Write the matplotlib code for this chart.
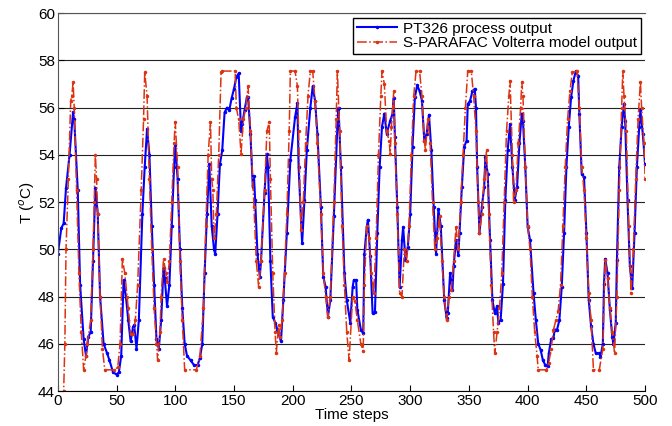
import matplotlib
matplotlib.use("Agg")
import matplotlib.pyplot as plt

plt.rcParams["font.family"] = ["Liberation Sans", "DejaVu Sans"]

# PT326 process output (time step, temperature)
t_proc = [0, 3, 5, 7, 10, 13, 14, 17, 19, 22, 24, 26, 28, 30, 32, 34, 36, 39, 42, 44,
          47, 50, 52, 54, 56, 58, 60, 62, 64, 65, 67, 69, 72, 74, 76, 78, 80, 82, 84, 86,
          88, 90, 91, 93, 95, 97, 99, 100, 102, 104, 106, 108, 110, 113, 116, 119, 121, 123, 125, 127,
          129, 131, 133, 134, 136, 138, 140, 142, 144, 146, 148, 150, 152, 154, 156, 157, 159, 161, 162, 164,
          166, 167, 168, 170, 172, 173, 176, 178, 179, 181, 183, 185, 187, 190, 192, 195, 198, 202, 204, 205,
          208, 210, 212, 215, 217, 219, 221, 224, 226, 228, 230, 232, 235, 238, 239, 241, 244, 246, 249, 251,
          252, 254, 255, 258, 260, 261, 263, 264, 266, 268, 270, 272, 274, 276, 278, 280, 283, 285, 286, 287,
          289, 291, 293, 294, 296, 298, 300, 302, 304, 306, 308, 310, 312, 314, 316, 318, 320, 322, 324, 326,
          329, 331, 332, 334, 336, 337, 339, 341, 342, 344, 346, 348, 349, 351, 353, 355, 356, 357, 359, 361,
          363, 364, 366, 368, 370, 372, 374, 375, 377, 379, 381, 383, 385, 387, 389, 391, 393, 395, 396, 398,
          400, 402, 405, 407, 409, 411, 413, 415, 417, 418, 420, 422, 423, 425, 427, 429, 431, 433, 435, 437,
          439, 441, 443, 444, 446, 448, 450, 452, 454, 456, 458, 461, 462, 464, 465, 466, 468, 470, 472, 473,
          475, 476, 478, 480, 482, 483, 485, 487, 489, 491, 493, 495, 496, 498, 500]
T_proc = [49.8, 50.9, 51.1, 52.6, 54.0, 55.8, 55.5, 52.5, 48.5, 46.2, 45.5, 46.3, 46.5, 49.5, 52.6, 51.5, 48.0, 46.0, 45.6, 45.3,
          44.8, 44.7, 44.8, 45.5, 48.7, 48.0, 47.0, 46.1, 46.7, 46.8, 45.8, 47.0, 51.5, 53.5, 55.1, 54.0, 51.0, 48.5, 46.2, 45.8,
          47.0, 49.2, 48.8, 47.6, 48.5, 51.0, 53.5, 54.4, 53.0, 50.0, 47.5, 46.0, 45.5, 45.3, 45.1, 45.1, 45.4, 46.0, 49.0, 51.5,
          53.6, 51.0, 50.0, 49.8, 51.5, 53.6, 54.2, 55.8, 56.0, 55.9, 56.4, 56.8, 57.3, 57.45, 55.0, 55.3, 55.9, 56.45, 56.45, 54.9,
          52.65, 53.1, 52.1, 49.8, 48.85, 49.5, 52.4, 54.05, 53.5, 49.5, 47.15, 46.9, 46.6, 46.1, 47.85, 50.7, 53.8, 55.6, 56.2, 53.5,
          50.25, 52.1, 54.2, 56.0, 56.9, 56.3, 54.9, 51.8, 48.85, 48.4, 47.15, 47.85, 51.4, 55.2, 56.0, 53.5, 49.0, 47.85, 46.9, 48.4,
          48.7, 48.7, 47.45, 46.6, 46.45, 49.8, 50.95, 51.25, 49.7, 47.3, 47.35, 50.7, 53.5, 55.2, 55.75, 54.9, 55.45, 55.75, 56.4, 54.75,
          51.8, 48.4, 50.4, 50.95, 49.55, 50.1, 51.5, 54.35, 56.45, 56.95, 56.7, 56.3, 54.6, 54.9, 55.7, 54.2, 51.8, 49.8, 51.7, 51.0,
          47.85, 47.1, 47.3, 49.0, 48.3, 49.3, 50.4, 49.75, 50.7, 52.65, 54.35, 54.6, 56.15, 56.3, 56.7, 56.8, 56.0, 53.5, 50.7, 51.8,
          52.65, 53.9, 53.2, 50.4, 47.85, 47.3, 47.6, 46.9, 47.0, 48.55, 52.1, 54.2, 55.3, 53.5, 52.1, 52.65, 54.5, 55.75, 55.45, 53.5,
          50.95, 50.4, 48.15, 47.0, 46.0, 45.75, 45.3, 45.1, 45.05, 45.6, 46.2, 46.25, 46.6, 46.6, 47.0, 48.4, 50.7, 53.5, 55.2, 56.45,
          57.15, 57.55, 57.35, 55.75, 53.2, 53.05, 50.7, 47.85, 46.75, 46.0, 45.6, 45.6, 45.45, 46.0, 48.55, 49.6, 49.0, 47.45, 46.3, 46.0,
          46.9, 49.55, 53.5, 55.2, 56.15, 55.45, 52.1, 49.3, 48.35, 50.7, 53.5, 55.2, 55.9, 54.9, 53.6]

# S-PARAFAC Volterra model output (time step, temperature)
t_model = [0, 4, 5, 6, 7, 9, 11, 12, 13, 14, 16, 18, 20, 22, 24, 25, 28, 30, 31, 32,
           33, 34, 36, 38, 40, 48, 51, 53, 55, 57, 59, 60, 62, 64, 66, 68, 71, 73, 74, 76,
           78, 80, 82, 84, 85, 87, 88, 90, 92, 93, 95, 97, 99, 100, 102, 104, 106, 108, 118, 121,
           124, 126, 128, 130, 131, 132, 133, 135, 137, 139, 140, 151, 152, 154, 156, 158, 160, 162, 164, 167,
           169, 171, 173, 176, 178, 180, 181, 183, 185, 186, 188, 189, 191, 193, 195, 197, 198, 202, 204, 205,
           207, 209, 211, 213, 215, 217, 219, 221, 224, 226, 228, 230, 232, 235, 237, 238, 240, 242, 244, 246,
           248, 251, 253, 255, 258, 260, 261, 263, 265, 267, 269, 271, 273, 275, 276, 278, 280, 282, 283, 284,
           286, 287, 289, 291, 293, 295, 297, 299, 301, 303, 305, 308, 310, 312, 313, 315, 317, 319, 321, 323,
           325, 327, 329, 331, 333, 335, 337, 339, 341, 343, 345, 347, 349, 352, 354, 356, 358, 359, 361, 363,
           365, 367, 369, 371, 372, 374, 376, 378, 380, 382, 384, 385, 387, 388, 390, 392, 394, 395, 396, 398,
           400, 402, 404, 406, 408, 409, 416, 418, 420, 422, 424, 426, 428, 430, 432, 434, 436, 438, 442, 444,
           446, 448, 450, 452, 454, 456, 461, 464, 466, 468, 470, 472, 474, 476, 478, 480, 481, 482, 484, 486,
           488, 490, 492, 494, 496, 497, 499, 500]
T_model = [43.0, 43.5, 44.0, 46.0, 50.0, 53.0, 56.3, 56.5, 57.1, 56.0, 52.5, 49.0, 46.5, 44.9, 45.5, 46.0, 47.0, 50.0, 52.0, 54.0,
           53.0, 51.5, 48.0, 45.8, 44.9, 44.9, 45.0, 46.0, 49.6, 49.0, 48.0, 47.5, 46.4, 46.4, 47.0, 48.5, 52.5, 55.5, 57.5, 56.5,
           53.0, 50.0, 47.5, 46.0, 45.3, 46.5, 48.0, 49.6, 49.0, 48.6, 49.5, 52.0, 54.5, 55.4, 53.5, 49.5, 47.0, 44.9, 44.9, 45.5,
           47.5, 51.0, 54.0, 55.4, 53.0, 52.5, 50.5, 51.5, 54.0, 57.5, 57.55, 57.55, 56.0, 55.5, 54.05, 55.5, 56.0, 56.9, 55.0, 51.8,
           49.5, 48.4, 49.5, 52.5, 55.0, 55.4, 53.0, 49.0, 46.5, 45.6, 46.8, 46.3, 47.0, 49.0, 51.5, 55.0, 57.55, 57.55, 56.9, 55.0,
           50.8, 52.0, 54.5, 56.5, 57.55, 57.55, 56.3, 54.5, 51.5, 49.0, 48.0, 47.15, 48.0, 52.0, 55.5, 57.55, 55.0, 51.0, 48.5, 46.5,
           45.3, 48.0, 47.8, 47.0, 46.0, 45.7, 48.5, 51.0, 50.5, 49.0, 48.15, 50.5, 54.0, 56.5, 57.55, 57.0, 55.0, 54.6, 54.05, 55.2,
           56.7, 54.5, 51.5, 48.15, 48.0, 50.0, 49.5, 51.0, 54.0, 56.5, 57.55, 57.55, 56.5, 54.6, 54.2, 55.5, 54.5, 52.0, 50.0, 50.5,
           51.4, 49.5, 48.0, 47.0, 48.0, 48.3, 49.5, 50.95, 50.0, 52.0, 54.0, 56.0, 57.55, 57.55, 56.5, 55.0, 52.0, 50.7, 51.5, 53.0,
           54.2, 51.5, 48.5, 46.5, 45.6, 46.5, 47.5, 49.0, 52.0, 55.0, 56.5, 57.15, 54.0, 52.0, 52.5, 54.5, 56.0, 57.1, 56.5, 53.5,
           51.0, 50.0, 48.0, 46.5, 45.5, 44.9, 44.9, 45.2, 45.8, 46.6, 47.0, 47.4, 48.5, 51.0, 53.5, 55.5, 56.7, 57.5, 57.55, 56.0,
           53.5, 52.5, 50.5, 48.15, 47.0, 44.9, 44.9, 45.8, 49.55, 48.8, 47.5, 46.5, 45.6, 48.0, 52.5, 56.0, 57.55, 56.5, 55.0, 51.0,
           48.15, 50.0, 53.0, 55.5, 57.1, 56.0, 54.5, 53.0]

fig = plt.figure(figsize=(6.72, 4.26), dpi=100)
ax = fig.add_axes([0.086, 0.082, 0.874, 0.887])

ax.plot(t_proc, T_proc, color="#0000ff", lw=1.5, marker=".", ms=3,
        label="PT326 process output")
ax.plot(t_model, T_model, color="#dd3311", lw=1.1, ls="-.", marker=".", ms=3,
        label="S-PARAFAC Volterra model output")

ax.set_xlim(0, 500)
ax.set_ylim(44, 60)
ax.set_xticks(range(0, 501, 50))
ax.set_yticks(range(44, 61, 2))
ax.tick_params(direction="in", labelsize=11, length=4, pad=2)
ax.yaxis.grid(True, color="#222222", lw=0.8)
ax.set_axisbelow(True)
ax.spines["right"].set_visible(False)
ax.spines["top"].set_color("#555555")
ax.spines["left"].set_color("#555555")

ax.set_xlabel("Time steps", fontsize=11, labelpad=0)
ax.set_ylabel(r"T ($^{o}$C)", fontsize=11, labelpad=1)

leg = ax.legend(loc="upper right", fontsize=11, fancybox=False, framealpha=1,
                edgecolor="black", handlelength=2.6, handletextpad=0.4,
                borderaxespad=0.3, borderpad=0.25, labelspacing=0.05)
leg.get_frame().set_linewidth(1.0)

fig.savefig("out.png", dpi=100)
